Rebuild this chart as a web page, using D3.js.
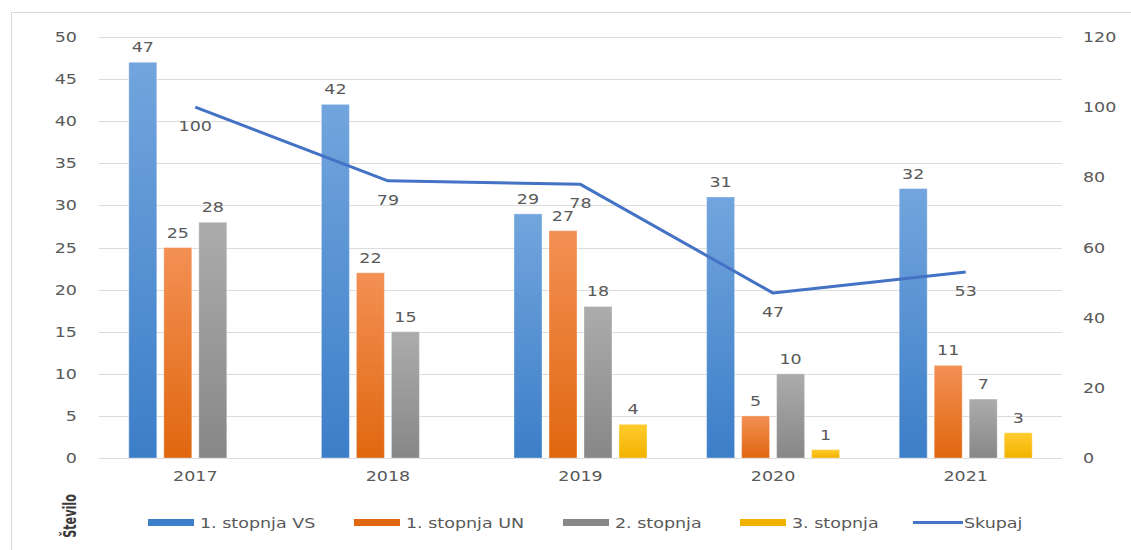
<!DOCTYPE html>
<html>
<head>
<meta charset="utf-8">
<script src="https://cdn.jsdelivr.net/npm/d3@7"></script>
<style>
  body { margin: 0; background: #fff; }
  text { font-family: "DejaVu Sans", sans-serif; fill: #595959; }
</style>
</head>
<body>
<div id="vis"></div>
<script>
var years = ['2017', '2018', '2019', '2020', '2021'];
var seriesNames = ['1. stopnja VS', '1. stopnja UN', '2. stopnja', '3. stopnja'];
var stopnjaVS = [47, 42, 29, 31, 32];
var stopnjaUN = [25, 22, 27, 5, 11];
var stopnja2 = [28, 15, 18, 10, 7];
var stopnja3 = [null, null, 4, 1, 3];
var skupaj = [100, 79, 78, 47, 53];
var leftTicks = [0, 5, 10, 15, 20, 25, 30, 35, 40, 45, 50];
var rightTicks = [0, 20, 40, 60, 80, 100, 120];

var width = 1131;
var height = 550;
var plot = { left: 99, right: 1062, top: 37, bottom: 458 };

// top / bottom colours of each bar gradient
var barColors = [
  ['#72a5dd', '#3c7ec8'],
  ['#f39054', '#e0670f'],
  ['#acacac', '#878787'],
  ['#ffcb2e', '#f2b300']
];
var lineColor = '#4472c4';
var stretch = 1.25; // the reference text is drawn wide

var svg = d3.select('#vis').append('svg')
  .attr('width', width)
  .attr('height', height);

var defs = svg.append('defs');
barColors.forEach(function (c, i) {
  var g = defs.append('linearGradient')
    .attr('id', 'grad' + i)
    .attr('x1', 0).attr('y1', 0).attr('x2', 0).attr('y2', 1);
  g.append('stop').attr('offset', '0%').attr('stop-color', c[0]);
  g.append('stop').attr('offset', '100%').attr('stop-color', c[1]);
});

// outer frame
svg.append('rect')
  .attr('x', 11.5).attr('y', 12.5)
  .attr('width', 1130).attr('height', 560)
  .attr('fill', 'none')
  .attr('stroke', '#d9d9d9');

function wideText(sel, x, y, str, anchor) {
  return sel.append('text')
    .attr('transform', 'translate(' + x + ',' + y + ') scale(' + stretch + ',1)')
    .attr('text-anchor', anchor || 'middle')
    .attr('font-size', 14)
    .text(str);
}

var yLeft = d3.scaleLinear().domain([0, 50]).range([plot.bottom, plot.top]);
var yRight = d3.scaleLinear().domain([0, 120]).range([plot.bottom, plot.top]);

var x0 = d3.scaleBand().domain(years).range([plot.left, plot.right]);
var groupWidth = 133;
var x1 = d3.scaleBand().domain(d3.range(4)).range([0, groupWidth]).paddingInner(0.2);
var groupOffset = (x0.bandwidth() - groupWidth) / 2;

// gridlines
svg.append('g').selectAll('line')
  .data(leftTicks)
  .enter().append('line')
  .attr('x1', plot.left).attr('x2', plot.right)
  .attr('y1', function (d) { return Math.round(yLeft(d)) + 0.5; })
  .attr('y2', function (d) { return Math.round(yLeft(d)) + 0.5; })
  .attr('stroke', '#dcdcdc')
  .attr('stroke-width', 1);

// axis labels
var axisG = svg.append('g');
leftTicks.forEach(function (t) {
  wideText(axisG, 77, yLeft(t) + 5, t, 'end');
});
rightTicks.forEach(function (t) {
  wideText(axisG, 1083, yRight(t) + 5, t, 'start');
});
years.forEach(function (yr) {
  wideText(axisG, x0(yr) + x0.bandwidth() / 2, 481, yr, 'middle');
});

// bars
var allSeries = [stopnjaVS, stopnjaUN, stopnja2, stopnja3];
var barData = [];
years.forEach(function (yr, i) {
  allSeries.forEach(function (s, j) {
    if (s[i] != null) {
      barData.push({ year: yr, series: j, value: s[i] });
    }
  });
});

var barsG = svg.append('g');
barsG.selectAll('rect')
  .data(barData)
  .enter().append('rect')
  .attr('x', function (d) { return x0(d.year) + groupOffset + x1(d.series); })
  .attr('y', function (d) { return yLeft(d.value); })
  .attr('width', x1.bandwidth())
  .attr('height', function (d) { return yLeft(0) - yLeft(d.value); })
  .attr('fill', function (d) { return 'url(#grad' + d.series + ')'; })
  .attr('stroke', 'rgba(255,255,255,0.35)')
  .attr('stroke-width', 1);

barData.forEach(function (d) {
  wideText(barsG, x0(d.year) + groupOffset + x1(d.series) + x1.bandwidth() / 2,
    yLeft(d.value) - 10, d.value, 'middle');
});

// total line
var linePts = years.map(function (yr, i) {
  return { x: x0(yr) + x0.bandwidth() / 2, y: yRight(skupaj[i]), v: skupaj[i] };
});

svg.append('path')
  .datum(linePts)
  .attr('d', d3.line().x(function (d) { return d.x; }).y(function (d) { return d.y; }))
  .attr('fill', 'none')
  .attr('stroke', lineColor)
  .attr('stroke-width', 3)
  .attr('stroke-linejoin', 'round');

var lineLabels = svg.append('g');
linePts.forEach(function (p) {
  wideText(lineLabels, p.x, p.y + 24, p.v, 'middle');
});

// y title (narrow, bold)
svg.append('text')
  .attr('transform', 'translate(76,516) rotate(-90) scale(0.66,1)')
  .attr('text-anchor', 'middle')
  .attr('font-weight', 'bold')
  .attr('font-size', 17)
  .style('fill', '#3a3a3a')
  .text('Število');

// legend
var legendItems = [
  { name: seriesNames[0], type: 'bar', i: 0, x: 148 },
  { name: seriesNames[1], type: 'bar', i: 1, x: 354 },
  { name: seriesNames[2], type: 'bar', i: 2, x: 563 },
  { name: seriesNames[3], type: 'bar', i: 3, x: 740 },
  { name: 'Skupaj', type: 'line', x: 913 }
];
var swatchW = 46;
var legend = svg.append('g');
legendItems.forEach(function (d) {
  if (d.type === 'bar') {
    legend.append('rect')
      .attr('x', d.x).attr('y', 519)
      .attr('width', swatchW).attr('height', 7)
      .attr('fill', barColors[d.i][1]);
  } else {
    legend.append('line')
      .attr('x1', d.x).attr('x2', d.x + swatchW + 4)
      .attr('y1', 522.5).attr('y2', 522.5)
      .attr('stroke', lineColor)
      .attr('stroke-width', 3);
  }
  wideText(legend, d.x + swatchW + (d.type === 'line' ? 5 : 6), 528, d.name, 'start');
});
</script>
</body>
</html>
